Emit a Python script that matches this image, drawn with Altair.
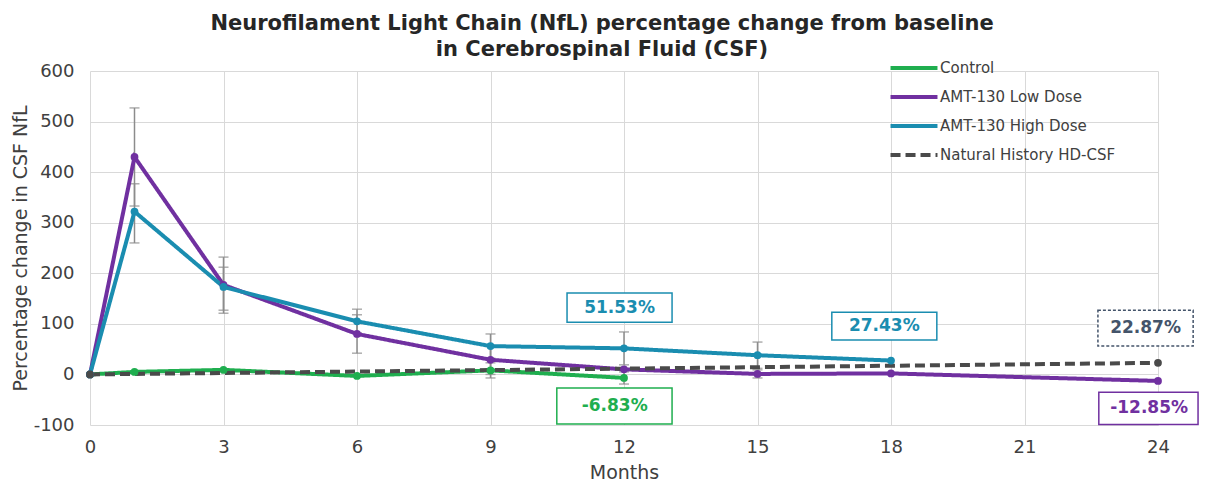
import altair as alt
import pandas as pd

# ---------------- data ----------------
series_names = ["Control", "AMT-130 Low Dose", "AMT-130 High Dose", "Natural History HD-CSF"]
series_colors = ["#1fae4f", "#7030a0", "#1a8db0", "#4a4a4a"]

control_months = [0, 1, 3, 6, 9, 12]
control_values = [0, 5, 9, -3, 8, -6.83]
low_months = [0, 1, 3, 6, 9, 12, 15, 18, 24]
low_values = [0, 430, 177, 80, 29, 10, 1, 2, -12.85]
high_months = [0, 1, 3, 6, 9, 12, 15, 18]
high_values = [0, 322, 173, 105, 56, 51.53, 38, 27.43]
nh_months = [0, 24]
nh_values = [0, 22.87]

# error bars (month, lower, upper)
err_months = [1, 1, 3, 3, 6, 6, 9, 9, 9, 12, 12, 15, 15]
err_lower = [333, 260, 121, 127, 42, 82, 0, 32, -7, 19, -19, 12, -7]
err_upper = [527, 377, 232, 212, 118, 129, 57, 80, 23, 84, 5, 64, 9]

# annotation boxes
label_text = ["51.53%", "27.43%", "22.87%", "-6.83%", "-12.85%"]
label_month = [11.9, 17.85, 23.72, 11.79, 23.8]
label_value = [132, 96, 92, -62, -67]
label_color = ["#1a8db0", "#1a8db0", "#44546a", "#1fae4f", "#7030a0"]
box_style = ["solid", "solid", "dotted", "solid", "solid"]
box_month0 = [10.72, 16.67, 22.65, 10.49, 22.67]
box_month1 = [13.08, 19.03, 24.79, 13.08, 24.9]
box_value0 = [103, 68, 56, -98, -99]
box_value1 = [161, 123, 127, -27, -35]

# ---------------- tables ----------------
rows = []
for name, ms, vs in [
    (series_names[0], control_months, control_values),
    (series_names[1], low_months, low_values),
    (series_names[2], high_months, high_values),
    (series_names[3], nh_months, nh_values),
]:
    for m, v in zip(ms, vs):
        rows.append({"series": name, "month": m, "value": v})
lines_df = pd.DataFrame(rows)

err_df = pd.DataFrame({"month": err_months, "value": err_lower, "value2": err_upper})
caps_df = pd.DataFrame({"month": err_months + err_months, "value": err_lower + err_upper})

lab_df = pd.DataFrame({
    "label": label_text, "month": label_month, "value": label_value,
    "color": label_color, "style": box_style,
    "bm0": box_month0, "bm1": box_month1, "bv0": box_value0, "bv1": box_value1,
})

GRID = "#d9d9d9"
TXT = "#404040"
FONT = "DejaVu Sans"

x_axis = alt.Axis(values=[0, 3, 6, 9, 12, 15, 18, 21, 24], grid=True, gridColor=GRID,
                  domain=False, ticks=False, labelFontSize=18, labelColor=TXT, labelFont=FONT,
                  labelPadding=13, labelFlush=False, titleFontSize=19, titleFontWeight="normal",
                  titleColor=TXT, titleFont=FONT, titlePadding=7)
y_axis = alt.Axis(values=[-100, 0, 100, 200, 300, 400, 500, 600], grid=True, gridColor=GRID,
                  domain=False, ticks=False, labelFontSize=18, labelColor=TXT, labelFont=FONT,
                  labelPadding=16, labelFlush=False, labelExpr="toString(datum.value)",
                  titleFontSize=19, titleFontWeight="normal",
                  titleColor=TXT, titleFont=FONT, titlePadding=3)
x_scale = alt.Scale(domain=[0, 24], nice=False, zero=False)
y_scale = alt.Scale(domain=[-100, 600], nice=False, zero=False)


def X(field):
    return alt.X(f"{field}:Q", scale=x_scale, axis=x_axis, title="Months")


def Y(field):
    return alt.Y(f"{field}:Q", scale=y_scale, axis=y_axis, title="Percentage change in CSF NfL")


color_enc = alt.Color("series:N", scale=alt.Scale(domain=series_names, range=series_colors),
                      legend=alt.Legend(title=None))
dash_enc = alt.StrokeDash("series:N",
                          scale=alt.Scale(domain=series_names, range=[[1, 0], [1, 0], [1, 0], [10, 5]]),
                          legend=alt.Legend(title=None))

err_rules = alt.Chart(err_df).mark_rule(color="#8c8c8c", strokeWidth=1.5).encode(
    x=X("month"), y=Y("value"), y2="value2:Q")
err_caps = alt.Chart(caps_df).mark_tick(orient="horizontal", size=10, thickness=1.5,
                                        color="#8c8c8c").encode(x=X("month"), y=Y("value"))

lines = alt.Chart(lines_df).mark_line(strokeWidth=4).encode(
    x=X("month"), y=Y("value"), color=color_enc, strokeDash=dash_enc)
points = alt.Chart(lines_df).mark_circle(size=60, opacity=1).encode(
    x=X("month"), y=Y("value"),
    color=alt.Color("series:N", scale=alt.Scale(domain=series_names, range=series_colors), legend=None))

boxes_solid = alt.Chart(lab_df).transform_filter(alt.datum.style == "solid").mark_rect(
    fill="white", strokeWidth=1.5).encode(
    x=X("bm0"), x2="bm1:Q", y=Y("bv0"), y2="bv1:Q",
    stroke=alt.Stroke("color:N", scale=None))
boxes_dotted = alt.Chart(lab_df).transform_filter(alt.datum.style == "dotted").mark_rect(
    fill="white", strokeWidth=1.5, strokeDash=[3, 2]).encode(
    x=X("bm0"), x2="bm1:Q", y=Y("bv0"), y2="bv1:Q",
    stroke=alt.Stroke("color:N", scale=None))
texts = alt.Chart(lab_df).mark_text(font=FONT, fontWeight="bold", fontSize=17, baseline="middle",
                                    align="center").encode(
    x=X("month"), y=Y("value"), text="label:N", color=alt.Color("color:N", scale=None))

chart = alt.layer(err_rules, err_caps, lines, points, boxes_solid, boxes_dotted, texts).properties(
    width=1068, height=354,
    title=alt.Title(["Neurofilament Light Chain (NfL) percentage change from baseline",
                     "in Cerebrospinal Fluid (CSF)"],
                    fontSize=21, font=FONT, fontWeight="bold", color="#262626",
                    anchor="middle", dx=-22, offset=-2, lineHeight=26),
    autosize=alt.AutoSizeParams(type="none"),
    padding={"left": 82, "top": 63, "right": 42, "bottom": 56},
).configure_view(stroke=None).configure_legend(
    orient="none", legendX=814, legendY=-13,
    symbolType="M-3,0L3,0", symbolSize=245, symbolStrokeWidth=4,
    labelFont=FONT, labelFontSize=15, labelColor=TXT, labelOffset=16, rowPadding=11,
    labelLimit=400,
)

chart.save("out.html", embed_options={"renderer": "svg", "actions": False})
